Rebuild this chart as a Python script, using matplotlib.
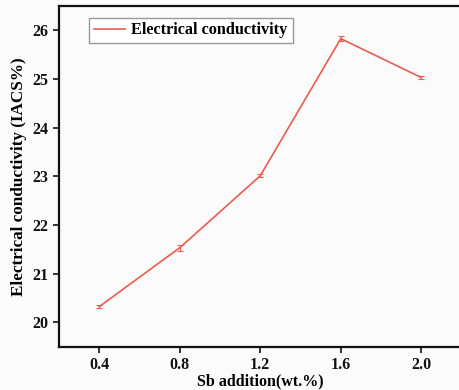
import matplotlib
matplotlib.use("Agg")
import matplotlib.pyplot as plt

# Data
sb_addition = [0.4, 0.8, 1.2, 1.6, 2.0]
conductivity = [20.32, 21.53, 23.01, 25.83, 25.03]
errors = [0.03, 0.06, 0.03, 0.05, 0.03]
x_ticks = [0.4, 0.8, 1.2, 1.6, 2.0]
y_ticks = [20, 21, 22, 23, 24, 25, 26]

plt.rcParams['font.family'] = ['Liberation Serif', 'DejaVu Serif']
plt.rcParams['font.weight'] = 'bold'

fig = plt.figure(figsize=(4.59, 3.9), dpi=100)
fig.patch.set_facecolor('#fbfbfb')
ax = fig.add_axes([0.1285, 0.1115, 0.877, 0.873])
ax.set_facecolor('#fbfbfb')

line_color = '#ee5a50'
ax.plot(sb_addition, conductivity, color=line_color, lw=1.2, label='Electrical conductivity')
ax.errorbar(sb_addition, conductivity, yerr=errors, fmt='none', ecolor=line_color,
            capsize=2.5, elinewidth=0.8, capthick=0.8)

ax.set_xlim(0.2, 2.2)
ax.set_ylim(19.5, 26.5)
ax.set_xticks(x_ticks)
ax.set_xticklabels([f"{v:.1f}" for v in x_ticks])
ax.set_yticks(y_ticks)
ax.tick_params(direction='out', length=4, width=1.2, labelsize=11.5, colors='#111111')
for lab in ax.get_xticklabels() + ax.get_yticklabels():
    lab.set_fontweight('bold')
for s in ax.spines.values():
    s.set_linewidth(1.6)
    s.set_color('#111111')

ax.set_xlabel('Sb addition(wt.%)', fontsize=11.5, fontweight='bold', labelpad=0)
ax.set_ylabel('Electrical conductivity (IACS%)', fontsize=12.3, fontweight='bold', labelpad=4)

leg = ax.legend(loc='upper left', bbox_to_anchor=(0.055, 0.99),
                prop={'weight': 'bold', 'size': 11.7}, fancybox=False,
                edgecolor='#999999', framealpha=1, handlelength=1.9,
                borderpad=0.3, handletextpad=0.4)
leg.get_frame().set_linewidth(1.0)

fig.savefig('out.png', dpi=100, facecolor=fig.get_facecolor())
